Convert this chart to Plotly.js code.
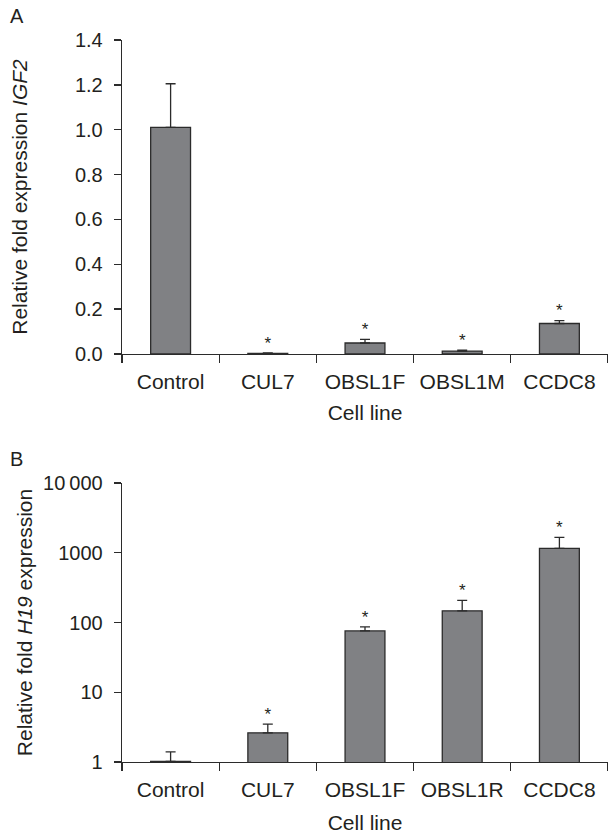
<!DOCTYPE html>
<html>
<head>
<meta charset="utf-8">
<script src="https://cdn.plot.ly/plotly-3.0.1.min.js"></script>
<style>html,body{margin:0;padding:0;background:#fff;}#chart{width:608px;height:834px;}</style>
</head>
<body>
<div id="chart"></div>
<script>
// Panel A: IGF2
const categoriesA = ["Control", "CUL7", "OBSL1F", "OBSL1M", "CCDC8"];
const valuesA = [1.01, 0.003, 0.049, 0.013, 0.136];
const errorsA = [0.195, 0.002, 0.016, 0.004, 0.013];
const starsA = ["", "*", "*", "*", "*"];

// Panel B: H19 (log scale)
const categoriesB = ["Control", "CUL7", "OBSL1F", "OBSL1R", "CCDC8"];
const valuesB = [1.02, 2.62, 75.7, 147, 1153];
const errorsB = [0.38, 0.87, 11, 60, 510];
const starsB = ["", "*", "*", "*", "*"];

const tickValsA = [0, 0.2, 0.4, 0.6, 0.8, 1.0, 1.2, 1.4];
const tickTextA = ["0.0", "0.2", "0.4", "0.6", "0.8", "1.0", "1.2", "1.4"];
const tickValsB = [1, 10, 100, 1000, 10000];
const tickTextB = ["1", "10", "100", "1000", "10\u2009000"];

const FONT = "Liberation Sans, Arial, Helvetica, sans-serif";
const TXT = "#231f20";
const BAR = "#808184";
const EDGE = "#2b2b2b";

function barTrace(x, y, err, xa, ya) {
  return {
    type: "bar", x: x, y: y, xaxis: xa, yaxis: ya, width: 0.41,
    marker: {color: BAR, line: {color: EDGE, width: 1.3}},
    error_y: {type: "data", symmetric: false, array: err,
              arrayminus: err.map(() => 0), color: EDGE, thickness: 1.3, width: 5},
    hoverinfo: "skip", showlegend: false
  };
}
function starTrace(x, y, err, stars, xa, ya) {
  return {
    type: "scatter", mode: "text", x: x, y: y.map((v, i) => v + err[i]),
    text: stars, textposition: "top center", xaxis: xa, yaxis: ya,
    textfont: {family: FONT, size: 17, color: TXT},
    hoverinfo: "skip", showlegend: false, cliponaxis: false
  };
}

const data = [
  barTrace(categoriesA, valuesA, errorsA, "x", "y"),
  starTrace(categoriesA, valuesA, errorsA, starsA, "x", "y"),
  barTrace(categoriesB, valuesB, errorsB, "x2", "y2"),
  starTrace(categoriesB, valuesB, errorsB, starsB, "x2", "y2")
];

const H = 834, W = 608, L = 122;
const xaxisCommon = {
  type: "category", showgrid: false, zeroline: false, showline: true,
  linecolor: EDGE, linewidth: 1.3, ticks: "outside", tickson: "boundaries",
  ticklen: 8, tickwidth: 1.3, tickcolor: EDGE, ticklabelstandoff: 8,
  tickfont: {family: FONT, size: 21, color: TXT}, automargin: false,
  range: [-0.5, 4.5], fixedrange: true
};
const yaxisCommon = {
  showgrid: false, zeroline: false, showline: true, linecolor: EDGE, linewidth: 1.3,
  ticks: "outside", ticklen: 7, tickwidth: 1.3, tickcolor: EDGE, ticklabelstandoff: 7,
  tickfont: {family: FONT, size: 20, color: TXT}, automargin: false, fixedrange: true
};

const layout = {
  width: W, height: H,
  margin: {l: L, r: 0, t: 0, b: 0},
  paper_bgcolor: "#ffffff", plot_bgcolor: "#ffffff",
  font: {family: FONT, color: TXT},
  xaxis: Object.assign({}, xaxisCommon, {
    domain: [0, 1], anchor: "y",
    title: {text: "Cell line", font: {family: FONT, size: 21, color: TXT}, standoff: 13}
  }),
  yaxis: Object.assign({}, yaxisCommon, {
    domain: [1 - 354 / H, 1 - 40 / H], anchor: "x",
    range: [0, 1.4], tickvals: tickValsA, ticktext: tickTextA,
    title: {text: "Relative fold expression <i>IGF2</i>", font: {family: FONT, size: 21, color: TXT}, standoff: 41}
  }),
  xaxis2: Object.assign({}, xaxisCommon, {
    domain: [0, 1], anchor: "y2",
    title: {text: "Cell line", font: {family: FONT, size: 21, color: TXT}, standoff: 16}
  }),
  yaxis2: Object.assign({}, yaxisCommon, {
    domain: [1 - 762 / H, 1 - 483 / H], anchor: "x2", type: "log",
    range: [0, 4], tickvals: tickValsB, ticktext: tickTextB,
    title: {text: "Relative fold <i>H19</i> expression", font: {family: FONT, size: 21, color: TXT}, standoff: 4}
  }),
  annotations: [
    {text: "A", xref: "paper", yref: "paper", x: (16.5 - L) / (W - L), y: 1 - 16.5 / H,
     xanchor: "center", yanchor: "middle", showarrow: false,
     font: {family: FONT, size: 20, color: TXT}},
    {text: "B", xref: "paper", yref: "paper", x: (16.5 - L) / (W - L), y: 1 - 459 / H,
     xanchor: "center", yanchor: "middle", showarrow: false,
     font: {family: FONT, size: 20, color: TXT}}
  ]
};

Plotly.newPlot("chart", data, layout, {displayModeBar: false, staticPlot: true});
</script>
</body>
</html>
